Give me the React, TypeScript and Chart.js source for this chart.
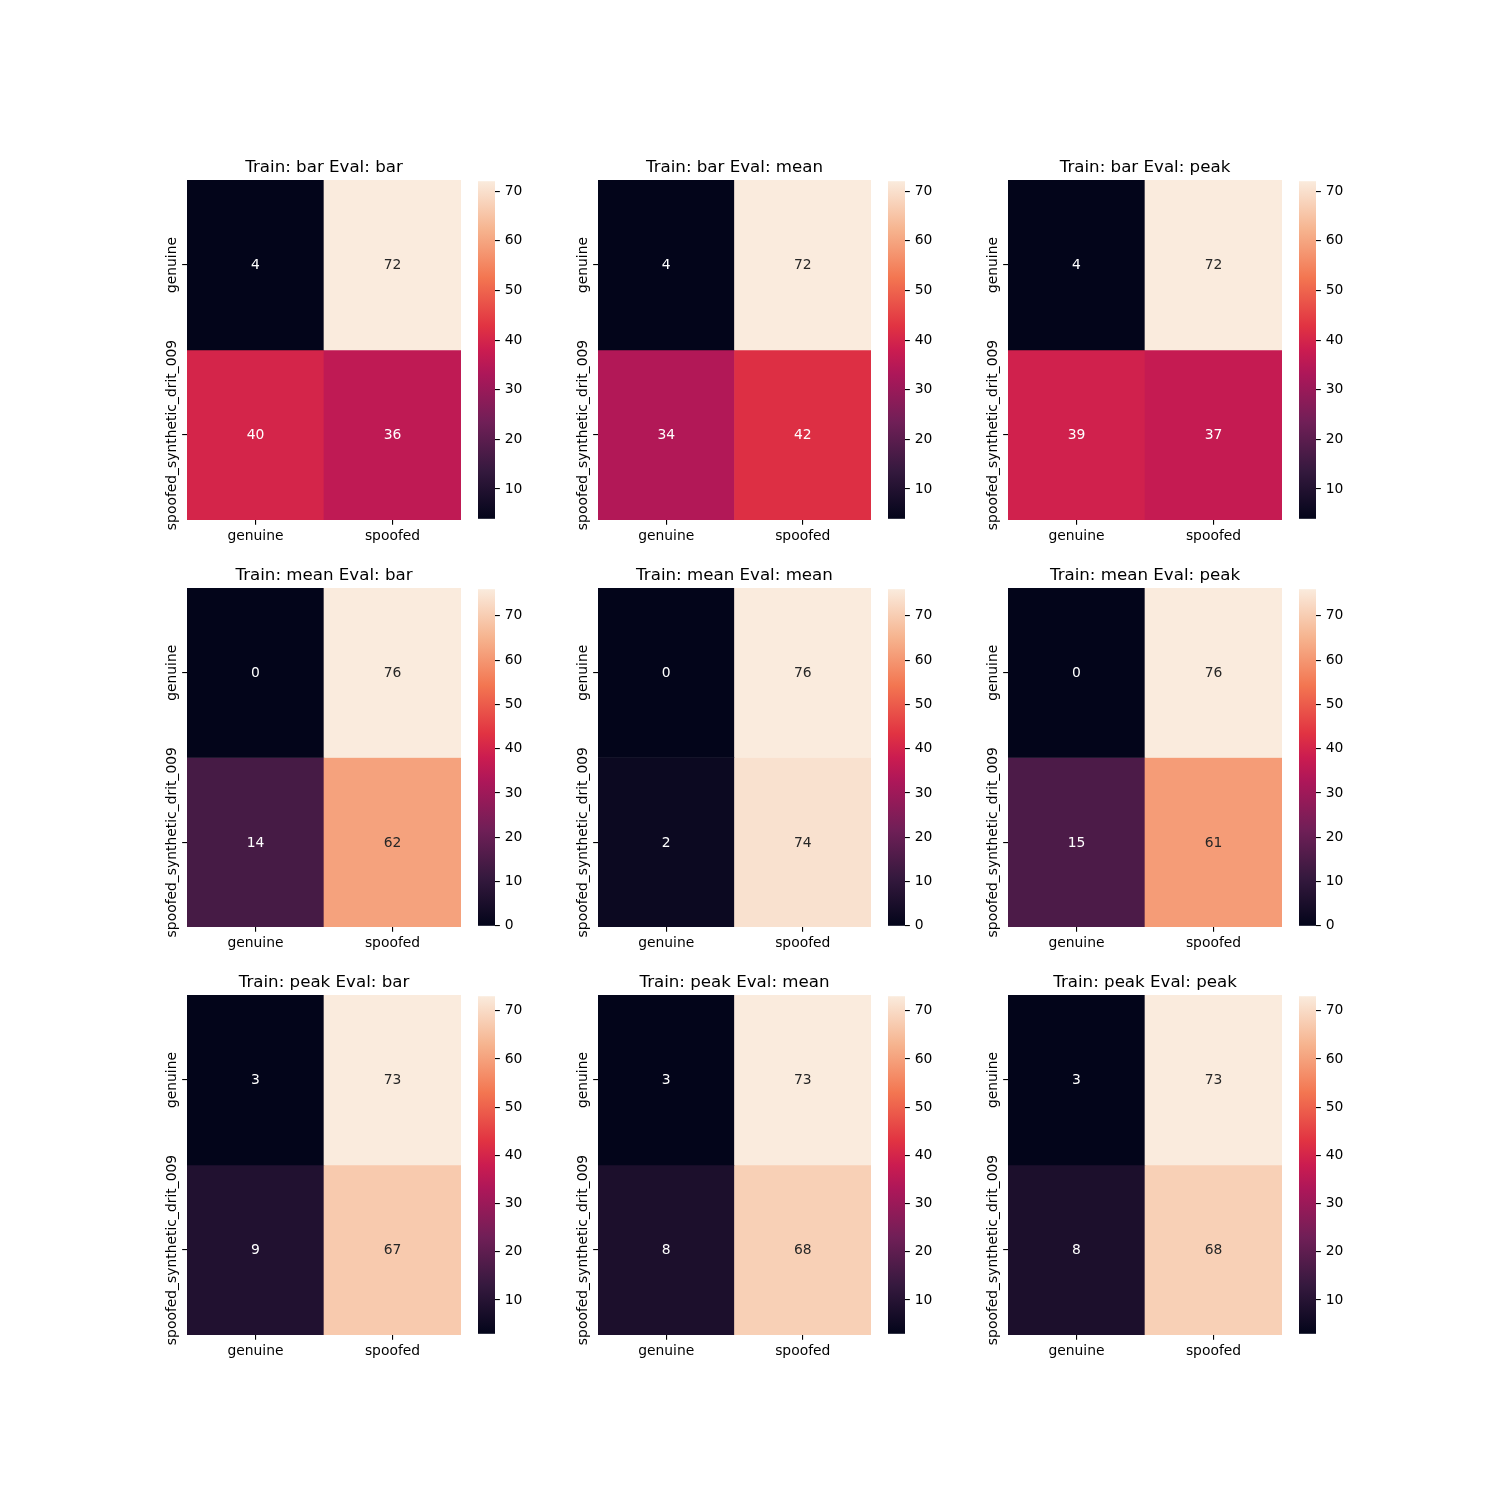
import React, { useEffect, useRef } from 'react';
import { Chart, registerables } from 'chart.js';
Chart.register(...registerables);

// ---------- data ----------
const rowLabels = ['genuine', 'spoofed_synthetic_drit_009'];
const colLabels = ['genuine', 'spoofed'];

const barBar = [[4, 72], [40, 36]];
const barMean = [[4, 72], [34, 42]];
const barPeak = [[4, 72], [39, 37]];
const meanBar = [[0, 76], [14, 62]];
const meanMean = [[0, 76], [2, 74]];
const meanPeak = [[0, 76], [15, 61]];
const peakBar = [[3, 73], [9, 67]];
const peakMean = [[3, 73], [8, 68]];
const peakPeak = [[3, 73], [8, 68]];

const titles = [
  'Train: bar Eval: bar', 'Train: bar Eval: mean', 'Train: bar Eval: peak',
  'Train: mean Eval: bar', 'Train: mean Eval: mean', 'Train: mean Eval: peak',
  'Train: peak Eval: bar', 'Train: peak Eval: mean', 'Train: peak Eval: peak',
];
const matrices = [barBar, barMean, barPeak, meanBar, meanMean, meanPeak, peakBar, peakMean, peakPeak];

const cbTicksBar = [10, 20, 30, 40, 50, 60, 70];
const cbTicksMean = [0, 10, 20, 30, 40, 50, 60, 70];
const cbTicksPeak = [10, 20, 30, 40, 50, 60, 70];
const cbTicks = [cbTicksBar, cbTicksMean, cbTicksPeak];

// ---------- layout / style ----------
const PT = 100 / 72;
const FONT = '"DejaVu Sans", sans-serif';
const colX = [187, 598, 1008];
const colW = [274, 273, 274];
const rowY = [180, 588, 995];
const rowH = [340, 339, 340];
const cbX = [478, 888, 1299];
const CBW = 17;
const YAX = 60;
const XAX = 40;
const TOPPAD = 40;

const rocketStops: [number, string][] = [
  [0, '#03051a'],
  [1 / 7, '#35193e'],
  [2 / 7, '#701f57'],
  [3 / 7, '#ad1759'],
  [0.5, '#cb1c50'],
  [4 / 7, '#e13342'],
  [5 / 7, '#f37651'],
  [6 / 7, '#f6b48f'],
  [1, '#faebdd'],
];

function hexToRgb(h: string): number[] {
  return [1, 3, 5].map((i) => parseInt(h.slice(i, i + 2), 16));
}

function rocket(t: number): number[] {
  t = Math.max(0, Math.min(1, t));
  for (let k = 0; k < rocketStops.length - 1; k++) {
    const [t0, c0] = rocketStops[k];
    const [t1, c1] = rocketStops[k + 1];
    if (t <= t1) {
      const f = (t - t0) / (t1 - t0);
      const a = hexToRgb(c0), b = hexToRgb(c1);
      return a.map((v, i) => Math.round(v + (b[i] - v) * f));
    }
  }
  return hexToRgb(rocketStops[rocketStops.length - 1][1]);
}

function lum(rgb: number[]): number {
  const l = rgb.map((c) => {
    const s = c / 255;
    return s <= 0.03928 ? s / 12.92 : Math.pow((s + 0.055) / 1.055, 2.4);
  });
  return 0.2126 * l[0] + 0.7152 * l[1] + 0.0722 * l[2];
}

const rgbStr = (c: number[]) => `rgb(${c[0]},${c[1]},${c[2]})`;

function Panel({ idx }: { idx: number }) {
  const heatRef = useRef<HTMLCanvasElement>(null);
  const cbRef = useRef<HTMLCanvasElement>(null);
  const r = Math.floor(idx / 3);
  const c = idx % 3;
  const matrix = matrices[idx];
  const flat = matrix.flat();
  const vmin = Math.min(...flat);
  const vmax = Math.max(...flat);
  const hw = colW[c], hh = rowH[r];

  useEffect(() => {
    const fs = 10 * PT;
    const gridOpts = {
      drawOnChartArea: false,
      drawTicks: true,
      tickLength: 3.5 * PT,
      color: '#000',
      lineWidth: 0.8 * PT,
    };
    const datasets = matrix.map((row, i) => ({
      label: rowLabels[i],
      data: row.map(() => 1),
      backgroundColor: row.map((v) => rgbStr(rocket((v - vmin) / (vmax - vmin)))),
      borderWidth: 0,
      barPercentage: 1,
      categoryPercentage: 1,
    }));

    const heatPlugin = {
      id: 'heatExtras',
      afterDraw(chart: any) {
        const { ctx, chartArea: a } = chart;
        const xs = chart.scales.x, ys = chart.scales.y;
        ctx.save();
        // annotations
        ctx.font = `${fs}px ${FONT}`;
        ctx.textAlign = 'center';
        ctx.textBaseline = 'alphabetic';
        matrix.forEach((row, i) =>
          row.forEach((v, j) => {
            const col = rocket((v - vmin) / (vmax - vmin));
            ctx.fillStyle = lum(col) > 0.408 ? '#262626' : '#ffffff';
            ctx.fillText(String(v), xs.getPixelForValue(j), ys.getPixelForValue(i + 0.5) + 0.31 * fs);
          })
        );
        // y tick labels (rotated)
        ctx.fillStyle = '#000';
        rowLabels.forEach((lab, i) => {
          ctx.save();
          ctx.translate(a.left - 11, ys.getPixelForValue(i + 0.5));
          ctx.rotate(-Math.PI / 2);
          ctx.textAlign = 'center';
          ctx.textBaseline = 'alphabetic';
          ctx.fillText(lab, 0, 0);
          ctx.restore();
        });
        // title
        ctx.font = `${12 * PT}px ${FONT}`;
        ctx.textAlign = 'center';
        ctx.textBaseline = 'alphabetic';
        ctx.fillText(titles[idx], (a.left + a.right) / 2, a.top - 6 * PT);
        ctx.restore();
      },
    };

    const heat = new Chart(heatRef.current!, {
      type: 'bar',
      data: { labels: colLabels, datasets },
      options: {
        animation: false,
        responsive: false,
        devicePixelRatio: 1,
        layout: { padding: { top: TOPPAD, left: 0, right: 2, bottom: 0 } },
        plugins: { legend: { display: false }, tooltip: { enabled: false }, title: { display: false } },
        scales: {
          x: {
            type: 'category',
            stacked: true,
            offset: true,
            grid: { ...gridOpts, offset: false },
            border: { display: false },
            ticks: { color: '#000', font: { family: FONT, size: fs }, padding: 3.5 * PT - 2, maxRotation: 0, minRotation: 0 },
            afterFit: (s: any) => { s.height = XAX; },
          },
          y: {
            type: 'linear',
            min: 0,
            max: rowLabels.length,
            reverse: true,
            stacked: true,
            grid: gridOpts,
            border: { display: false },
            ticks: { display: false },
            afterBuildTicks: (s: any) => { s.ticks = rowLabels.map((_, i) => ({ value: i + 0.5 })); },
            afterFit: (s: any) => { s.width = YAX; },
          },
        },
      } as any,
      plugins: [heatPlugin],
    });

    const gradPlugin = {
      id: 'cbGrad',
      beforeDatasetsDraw(chart: any) {
        const { ctx, chartArea: a } = chart;
        const g = ctx.createLinearGradient(0, a.bottom, 0, a.top);
        rocketStops.forEach(([t, col]) => g.addColorStop(t, col));
        ctx.save();
        ctx.fillStyle = g;
        ctx.fillRect(a.left, a.top, a.right - a.left, a.bottom - a.top);
        ctx.restore();
      },
    };

    const cb = new Chart(cbRef.current!, {
      type: 'scatter',
      data: { datasets: [{ data: [] }] },
      options: {
        animation: false,
        responsive: false,
        devicePixelRatio: 1,
        layout: { padding: { top: 12, bottom: 12, left: 0, right: 0 } },
        plugins: { legend: { display: false }, tooltip: { enabled: false } },
        scales: {
          x: { type: 'linear', display: false },
          y: {
            type: 'linear',
            position: 'right',
            min: vmin,
            max: vmax,
            grid: gridOpts,
            border: { display: false },
            ticks: { color: '#000', font: { family: FONT, size: fs }, padding: 3.5 * PT },
            afterBuildTicks: (s: any) => { s.ticks = cbTicks[r].map((v) => ({ value: v })); },
            afterFit: (s: any) => { s.width = 45; },
          },
        },
      } as any,
      plugins: [gradPlugin],
    });

    return () => {
      heat.destroy();
      cb.destroy();
    };
  }, [idx]);

  return (
    <>
      <div style={{ position: 'absolute', left: colX[c] - YAX, top: rowY[r] - TOPPAD }}>
        <canvas ref={heatRef} width={hw + YAX + 2} height={hh + TOPPAD + XAX} style={{ display: 'block' }} />
      </div>
      <div style={{ position: 'absolute', left: cbX[c], top: rowY[r] - 12 }}>
        <canvas ref={cbRef} width={CBW + 45} height={hh + 24} style={{ display: 'block' }} />
      </div>
    </>
  );
}

export default function App() {
  return (
    <div style={{ position: 'absolute', left: 0, top: 0, width: 1500, height: 1500, background: '#fff' }}>
      {matrices.map((_, i) => (
        <Panel key={i} idx={i} />
      ))}
    </div>
  );
}
